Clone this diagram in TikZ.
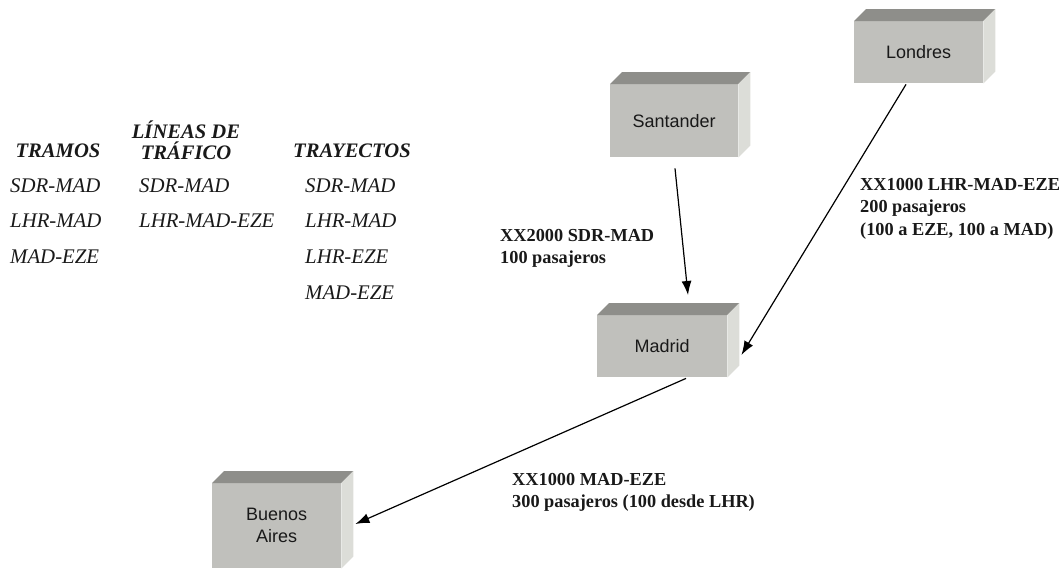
\documentclass[tikz,border=0pt]{standalone}
\usepackage{fontspec}
\setmainfont{Liberation Serif}
\newfontfamily\boxfont{Liberation Sans}
\usetikzlibrary{arrows.meta,calc}
\definecolor{frontc}{RGB}{192,192,188}
\definecolor{topc}{RGB}{142,142,138}
\definecolor{sidec}{RGB}{220,221,216}
\definecolor{txtc}{RGB}{25,25,25}
\tikzset{
  front/.style={fill=frontc, inner sep=0pt, anchor=north west, align=center,
    font=\boxfont\fontsize{18}{22}\selectfont, text=txtc},
  topface/.style={fill=topc},
  sideface/.style={fill=sidec},
  head/.style={font=\bfseries\itshape\fontsize{20.6}{21}\selectfont, inner sep=0pt, text=txtc, align=center},
  entry/.style={font=\itshape\fontsize{20.8}{22}\selectfont, inner sep=0pt, anchor=west, text=txtc},
  lbl/.style={font=\bfseries\fontsize{18.3}{22.5}\selectfont, inner sep=0pt, anchor=north west, align=left, text=txtc},
  arr/.style={-{Latex[length=14pt,width=10pt]}, line width=1.2pt, draw=black}
}
\newcommand{\cuboid}[6]{%
  \node[front, minimum width=#4pt, minimum height=#5pt] (#1) at (#2,#3) {#6};
  \fill[topface] (#1.north west) -- ++(12,-12) -- ([shift={(12,-12)}]#1.north east) -- (#1.north east) -- cycle;
  \fill[sideface] (#1.north east) -- ++(12,-12) -- ([shift={(12,-12)}]#1.south east) -- (#1.south east) -- cycle;
}
\begin{document}
\begin{tikzpicture}[x=1pt,y=-1pt]
\useasboundingbox (0,0) rectangle (1064,570);
% boxes
\cuboid{sant}{610}{84}{128}{73}{Santander}
\cuboid{lond}{854}{21}{129}{62}{Londres}
\cuboid{mad}{597}{315}{130}{62}{Madrid}
\cuboid{ba}{212}{483}{129}{85}{Buenos\\Aires}
% arrows
\draw[arr] ([shift={(65,11)}]sant.south west) -- ([shift={(91,-20)}]mad.north west);
\draw[arr] ([shift={(52,1)}]lond.south west) -- ([shift={(14,40)}]mad.north east);
\draw[arr] ([shift={(89,1)}]mad.south west) -- ([shift={(14,41)}]ba.north east);
% labels
\node[lbl] (l1) at (500,229) {XX2000 SDR-MAD\\100 pasajeros};
\node[lbl] (l2) at (860,178) {XX1000 LHR-MAD-EZE\\200 pasajeros\\(100 a EZE, 100 a MAD)};
\node[lbl] (l3) at (512,473) {XX1000 MAD-EZE\\300 pasajeros (100 desde LHR)};
% left table
\node[head] (h1) at (58,151) {TRAMOS};
\node[head] (h2) at (186,140) {LÍNEAS DE\\TRÁFICO};
\node[head] (h3) at (352,151) {TRAYECTOS};
\node[entry] (a1) at (10,186) {SDR-MAD};
\node[entry] (a2) at (10,221) {LHR-MAD};
\node[entry] (a3) at (10,257) {MAD-EZE};
\node[entry] (b1) at (139,186) {SDR-MAD};
\node[entry] (b2) at (139,221) {LHR-MAD-EZE};
\node[entry] (c1) at (305,186) {SDR-MAD};
\node[entry] (c2) at (305,221) {LHR-MAD};
\node[entry] (c3) at (305,257) {LHR-EZE};
\node[entry] (c4) at (305,293) {MAD-EZE};
\end{tikzpicture}
\end{document}
